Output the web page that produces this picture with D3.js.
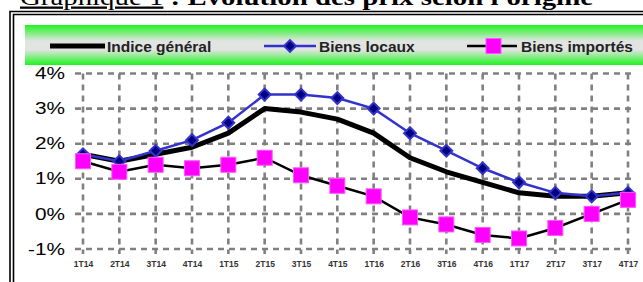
<!DOCTYPE html>
<html>
<head>
<meta charset="utf-8">
<script src="https://cdn.jsdelivr.net/npm/d3@7"></script>
<style>
  body { margin: 0; background: #fff; }
  svg { display: block; }
</style>
</head>
<body>
<svg width="643" height="282"></svg>
<script>
const categories = ['1T14', '2T14', '3T14', '4T14', '1T15', '2T15', '3T15', '4T15',
  '1T16', '2T16', '3T16', '4T16', '1T17', '2T17', '3T17', '4T17'];
const indiceGeneral = [1.7, 1.5, 1.7, 1.9, 2.3, 3.0, 2.9, 2.7, 2.3, 1.6, 1.2, 0.9, 0.6, 0.5, 0.5, 0.6];
const biensLocaux = [1.7, 1.5, 1.8, 2.1, 2.6, 3.4, 3.4, 3.3, 3.0, 2.3, 1.8, 1.3, 0.9, 0.6, 0.5, 0.6];
const biensImportes = [1.5, 1.2, 1.4, 1.3, 1.4, 1.6, 1.1, 0.8, 0.5, -0.1, -0.3, -0.6, -0.7, -0.4, 0.0, 0.4];
const yTicks = [-1, 0, 1, 2, 3, 4];
const seriesNames = ['Indice général', 'Biens locaux', 'Biens importés'];

const svg = d3.select("svg");

const x = d3.scalePoint().domain(categories).range([83, 628]);
const y = d3.scaleLinear().domain([-1, 4]).range([249, 73.5]);

// titre
const title = svg.append("text")
  .attr("x", 20).attr("y", 4.5)
  .attr("font-family", "'Liberation Serif', serif")
  .attr("font-size", 23)
  .attr("textLength", 573)
  .attr("lengthAdjust", "spacingAndGlyphs");
title.append("tspan").attr("text-decoration", "underline").text("Graphique 1");
title.append("tspan").attr("font-weight", "bold").text(" : Evolution des prix selon l'origine");

// double cadre
svg.append("path").attr("d", "M10,290 V11.5 H650").attr("fill", "none").attr("stroke", "#000").attr("stroke-width", 1.6);
svg.append("path").attr("d", "M13.5,290 V14.5 H650").attr("fill", "none").attr("stroke", "#000").attr("stroke-width", 1.6);

// bandeau légende
const grad = svg.append("defs").append("linearGradient")
  .attr("id", "band").attr("x1", 0).attr("y1", 0).attr("x2", 0).attr("y2", 1);
grad.append("stop").attr("offset", "0%").attr("stop-color", "#1cf51c");
grad.append("stop").attr("offset", "40%").attr("stop-color", "#e2e4e2");
grad.append("stop").attr("offset", "62%").attr("stop-color", "#e2e4e2");
grad.append("stop").attr("offset", "100%").attr("stop-color", "#1cf51c");
svg.append("rect").attr("x", 25).attr("y", 25).attr("width", 630).attr("height", 40).attr("fill", "url(#band)");

// grille
const grid = svg.append("g").attr("stroke", "#808080").attr("stroke-width", 2.6).attr("stroke-dasharray", "6,5");
grid.selectAll("line.h").data(yTicks).join("line").attr("class", "h")
  .attr("x1", 75).attr("x2", 632).attr("y1", d => y(d)).attr("y2", d => y(d));
grid.selectAll("line.v").data(categories).join("line").attr("class", "v")
  .attr("x1", d => x(d)).attr("x2", d => x(d)).attr("y1", y(4)).attr("y2", y(-1) + 5);

// axe Y
const yAxis = svg.append("g").attr("transform", "translate(65,0)")
  .call(d3.axisLeft(y).tickValues(yTicks).tickFormat(d => d + "%").tickSize(0).tickPadding(0));
yAxis.select(".domain").remove();
yAxis.selectAll("text")
  .attr("font-family", "Arial, 'Liberation Sans', sans-serif")
  .attr("font-size", 16).attr("fill", "#000")
  .attr("transform", "scale(1.3,1)");

// axe X
const xAxis = svg.append("g").attr("transform", `translate(0,${y(-1)})`)
  .call(d3.axisBottom(x).tickSize(0).tickPadding(12));
xAxis.select(".domain").remove();
xAxis.selectAll("text")
  .attr("font-family", "Arial, 'Liberation Sans', sans-serif")
  .attr("font-size", 8.5).attr("font-weight", "bold").attr("fill", "#333");

const line = d3.line().x((d, i) => x(categories[i])).y(d => y(d));

// Indice général
svg.append("path").datum(indiceGeneral).attr("d", line)
  .attr("fill", "none").attr("stroke", "#000").attr("stroke-width", 5).attr("stroke-linejoin", "round");

// Biens locaux
svg.append("path").datum(biensLocaux).attr("d", line)
  .attr("fill", "none").attr("stroke", "#3333cc").attr("stroke-width", 2.5);
const diamond = d3.symbol().type(d3.symbolSquare).size(70);
svg.append("g").selectAll("path").data(biensLocaux).join("path")
  .attr("d", diamond)
  .attr("transform", (d, i) => `translate(${x(categories[i])},${y(d)}) rotate(45)`)
  .attr("fill", "#000080").attr("stroke", "#3333cc").attr("stroke-width", 2);

// Biens importés
svg.append("path").datum(biensImportes).attr("d", line)
  .attr("fill", "none").attr("stroke", "#000").attr("stroke-width", 2.5);
svg.append("g").selectAll("rect").data(biensImportes).join("rect")
  .attr("x", (d, i) => x(categories[i]) - 7.5).attr("y", d => y(d) - 7.5)
  .attr("width", 15).attr("height", 15)
  .attr("fill", "#ff00ff").attr("stroke", "#ff55ff").attr("stroke-width", 1);

// légende
const legendY = 46;
const legend = svg.append("g");
const lg0 = [50, 264, 467];
legend.append("line").attr("x1", lg0[0]).attr("x2", lg0[0] + 55).attr("y1", legendY).attr("y2", legendY)
  .attr("stroke", "#000").attr("stroke-width", 5);
legend.append("line").attr("x1", lg0[1]).attr("x2", lg0[1] + 52).attr("y1", legendY).attr("y2", legendY)
  .attr("stroke", "#3333cc").attr("stroke-width", 2.5);
legend.append("path").attr("d", diamond)
  .attr("transform", `translate(${lg0[1] + 26},${legendY}) rotate(45)`)
  .attr("fill", "#000080").attr("stroke", "#3333cc").attr("stroke-width", 2);
legend.append("line").attr("x1", lg0[2]).attr("x2", lg0[2] + 50).attr("y1", legendY).attr("y2", legendY)
  .attr("stroke", "#000").attr("stroke-width", 2.5);
legend.append("rect").attr("x", lg0[2] + 19).attr("y", legendY - 7.5).attr("width", 15).attr("height", 15)
  .attr("fill", "#ff00ff").attr("stroke", "#ff55ff").attr("stroke-width", 1);
legend.selectAll("text").data(seriesNames).join("text")
  .attr("x", (d, i) => [107, 319, 521][i]).attr("y", legendY).attr("dy", "0.36em")
  .attr("font-family", "Arial, 'Liberation Sans', sans-serif")
  .attr("font-size", 15.5).attr("font-weight", "bold").attr("fill", "#222")
  .text(d => d);
</script>
</body>
</html>
